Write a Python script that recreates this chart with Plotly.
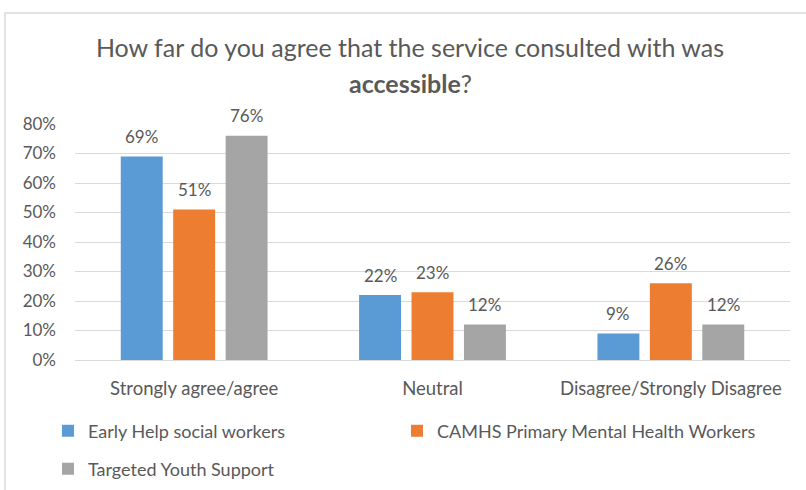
import plotly.graph_objects as go

categories = ["Strongly agree/agree", "Neutral", "Disagree/Strongly Disagree"]
series_names = [
    "Early Help social workers",
    "CAMHS Primary Mental Health Workers",
    "Targeted Youth Support",
]
early_help = [0.69, 0.22, 0.09]
camhs = [0.51, 0.23, 0.26]
targeted_youth = [0.76, 0.12, 0.12]
y_ticks = [0, 0.1, 0.2, 0.3, 0.4, 0.5, 0.6, 0.7, 0.8]

colors = ["#5B9BD5", "#ED7D31", "#A5A5A5"]
text_color = "#595959"
font_family = "Lato, 'Open Sans', sans-serif"

W, H = 806, 490
L, R, T, B = 75, 16, 124, 130
plot_w = W - L - R
plot_h = H - T - B
BARGAP = 0.34
GROUPGAP = 0.2
# width of one bar slot inside a category group, in pixels
slot_px = plot_w / len(categories) * (1 - BARGAP) / 3

all_series = [early_help, camhs, targeted_youth]
legend_ids = ["legend", "legend2", "legend3"]

fig = go.Figure()
for name, vals, col, leg in zip(series_names, all_series, colors, legend_ids):
    fig.add_trace(go.Bar(
        name=name,
        x=categories,
        y=vals,
        marker=dict(color=col, line=dict(width=0)),
        legend=leg,
        showlegend=True,
        hovertemplate="%{x}: %{y:.0%}<extra>" + name + "</extra>",
    ))

# value labels above each bar
annotations = []
for i, vals in enumerate(all_series):
    for cat, v in zip(categories, vals):
        annotations.append(dict(
            x=cat, y=v, xref="x", yref="y",
            text=f"{v:.0%}",
            showarrow=False,
            xanchor="center", yanchor="middle",
            xshift=(i - 1) * slot_px,
            yshift=20,
            font=dict(size=17, color=text_color, family=font_family),
        ))


def px_x(p):
    return (p - L) / plot_w


def px_y(p):
    return (H - B - p) / plot_h


TITLE_CX = 410
annotations.append(dict(
    text="<b>accessible</b>?",
    xref="paper", yref="paper",
    x=px_x(TITLE_CX), y=px_y(83), xanchor="center", yanchor="middle",
    showarrow=False,
    font=dict(size=25, color=text_color, family=font_family),
))

legend_common = dict(
    orientation="h",
    xref="container", yref="container",
    xanchor="left", yanchor="middle",
    font=dict(size=18, color=text_color, family=font_family),
    itemwidth=30,
    bgcolor="rgba(0,0,0,0)",
)

fig.update_layout(
    width=W,
    height=H,
    margin=dict(l=L, r=R, t=T, b=B, pad=0),
    paper_bgcolor="white",
    plot_bgcolor="white",
    font=dict(family=font_family, color=text_color),
    showlegend=True,
    barmode="group",
    bargap=BARGAP,
    bargroupgap=GROUPGAP,
    title=dict(
        text="How far do you agree that the service consulted with was",
        x=TITLE_CX / W, xanchor="center", xref="container",
        y=1 - 48 / H, yanchor="middle", yref="container",
        font=dict(size=25, color=text_color, family=font_family),
    ),
    annotations=annotations,
    xaxis=dict(
        showgrid=False,
        showline=True, linecolor="#D9D9D9", linewidth=1,
        ticks="",
        tickfont=dict(size=18.5, color=text_color),
        ticklabelstandoff=12,
        fixedrange=True,
    ),
    yaxis=dict(
        range=[0, 0.8],
        tickvals=y_ticks,
        tickformat=".0%",
        showgrid=True, gridcolor="#D9D9D9", gridwidth=1,
        zeroline=False,
        showline=False,
        ticks="",
        tickfont=dict(size=17, color=text_color),
        ticklabelstandoff=18,
        fixedrange=True,
    ),
    legend=dict(legend_common, x=48 / W, y=(H - 431) / H),
    legend2=dict(legend_common, x=397 / W, y=(H - 431) / H),
    legend3=dict(legend_common, x=48 / W, y=(H - 469) / H),
    shapes=[dict(
        type="rect", xref="paper", yref="paper",
        x0=px_x(5), x1=px_x(W + 10), y0=px_y(H + 10), y1=px_y(13),
        line=dict(color="#D9D9D9", width=1.5),
        fillcolor="rgba(0,0,0,0)",
        layer="below",
    )],
)

fig.write_html("out.html")
